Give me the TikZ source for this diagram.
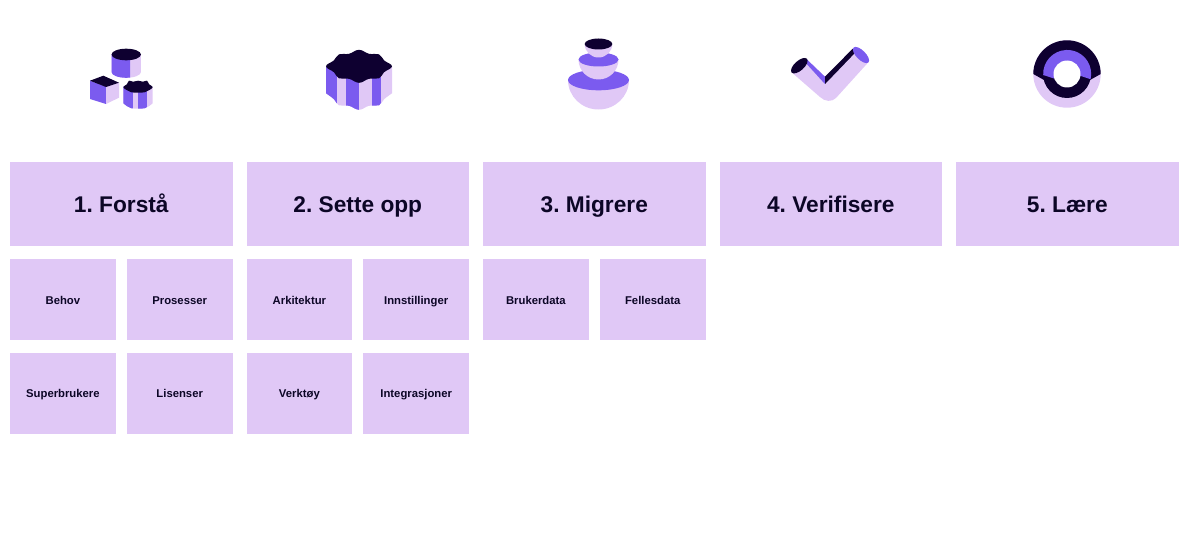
\documentclass[tikz,border=0pt]{standalone}
\usepackage{fontspec}
\setmainfont{Liberation Sans}
\definecolor{lilac}{HTML}{E0C8F6}
\definecolor{vio}{HTML}{7B5BEF}
\definecolor{ink}{HTML}{0E0030}
\definecolor{txt}{HTML}{0C0626}
\newcommand{\bigtop}{plot[smooth cycle,tension=.7] coordinates {(0,-16.5) (-10,-12.5) (-20,-12) (-25,-6) (-33,0) (-25,6) (-20,12) (-10,12.5) (0,16.5) (10,12.5) (20,12) (25,6) (33,0) (25,-6) (20,-12) (10,-12.5)}}
\newcommand{\bigbase}{plot[smooth,tension=.7] coordinates {(33,27) (25,33) (20,39) (10,39.5) (0,43.5) (-10,39.5) (-20,39) (-25,33) (-33,27)}}
\newcommand{\smalltop}{plot[smooth cycle,tension=.7] coordinates {(0,-6) (-5,-5) (-9,-6) (-11,-2.5) (-14.7,0.5) (-11,3.5) (-7,5.5) (0,6) (7,5.5) (11,3.5) (14.7,0.5) (11,-2.5) (9,-6) (5,-5)}}
\newcommand{\smallbase}{plot[smooth,tension=.7] coordinates {(14.7,16.5) (11,19.5) (7,21.5) (0,22) (-7,21.5) (-11,19.5) (-14.7,16.5)}}
\tikzset{
 head/.style={fill=lilac,inner sep=0,minimum width=222.5pt,minimum height=84.5pt,text height=17.8pt,text depth=0pt,font=\fontsize{22.7}{26}\selectfont\bfseries\frenchspacing,text=txt},
 sub/.style={fill=lilac,inner sep=0,minimum width=105.8pt,minimum height=81pt,text height=8.6pt,text depth=0pt,font=\fontsize{11.3}{13}\selectfont\bfseries,text=txt},
}
\begin{document}
\begin{tikzpicture}[x=1pt,y=-1pt]
\useasboundingbox (0,0) rectangle (1200,535);
\node[head] (h1) at (121.3,204) {1. Forstå};
\node[head] (h2) at (357.8,204) {2. Sette opp};
\node[head] (h3) at (594.3,204) {3. Migrere};
\node[head] (h4) at (830.8,204) {4. Verifisere};
\node[head] (h5) at (1067.3,204) {5. Lære};
\node[sub] (a1) at (62.9,299.7) {Behov};
\node[sub] (a2) at (179.7,299.7) {Prosesser};
\node[sub] (a3) at (62.9,393.4) {Superbrukere};
\node[sub] (a4) at (179.7,393.4) {Lisenser};
\node[sub] (b1) at (299.4,299.7) {Arkitektur};
\node[sub] (b2) at (416.2,299.7) {Innstillinger};
\node[sub] (b3) at (299.4,393.4) {Verktøy};
\node[sub] (b4) at (416.2,393.4) {Integrasjoner};
\node[sub] (c1) at (535.9,299.7) {Brukerdata};
\node[sub] (c2) at (652.7,299.7) {Fellesdata};

% icon 1: cylinder
\fill[lilac] (111.5,54.5) -- (111.5,72) arc[start angle=180,end angle=0,x radius=14.7,y radius=5.8] -- (141,54.5) -- cycle;
\begin{scope}
\clip (111.5,54.5) rectangle (130,80);
\fill[vio] (111.5,54.5) -- (111.5,72) arc[start angle=180,end angle=0,x radius=14.7,y radius=5.8] -- (141,54.5) -- cycle;
\end{scope}
\fill[ink] (126.2,54.5) ellipse[x radius=14.7,y radius=5.8];
% cube
\fill[vio] (90,80.7) -- (106,86.7) -- (106,104) -- (90,99) -- cycle;
\fill[lilac] (106,86.7) -- (119,82.7) -- (119,97.7) -- (106,104) -- cycle;
\fill[ink] (90,80.7) -- (103.3,75.7) -- (119,82.7) -- (106,87) -- cycle;
% small flower
\begin{scope}[shift={(138,86.7)}]
\begin{scope}
\clip \smallbase -- (-14.7,0) -- (14.7,0) -- cycle;
\fill[lilac] (-18,-6) rectangle (18,26);
\fill[vio] (-18,-6) rectangle (-4.7,26);
\fill[vio] (0.3,-6) rectangle (8.7,26);
\end{scope}
\fill[ink] \smalltop;
\end{scope}

% icon 2: large flower
\begin{scope}[shift={(359,66.3)}]
\begin{scope}
\clip \bigbase -- (-33,0) -- (33,0) -- cycle;
\fill[lilac] (-40,-16) rectangle (40,50);
\fill[vio] (-40,-16) rectangle (-21.7,50);
\fill[vio] (-13,-16) rectangle (0,50);
\fill[vio] (13.3,-16) rectangle (21.7,50);
\end{scope}
\fill[ink] \bigtop;
\end{scope}

% icon 3: bowls
\fill[lilac] (568,80) arc[start angle=180,end angle=0,x radius=30.5,y radius=29.5] -- cycle;
\fill[vio] (598.5,80) ellipse[x radius=30.5,y radius=10.3];
\fill[lilac] (578.5,59.5) arc[start angle=180,end angle=0,x radius=20,y radius=20] -- cycle;
\fill[vio] (598.5,59.5) ellipse[x radius=20,y radius=7];
\fill[lilac] (584.7,44) arc[start angle=180,end angle=0,x radius=13.8,y radius=13.5] -- cycle;
\fill[ink] (598.5,44) ellipse[x radius=13.8,y radius=5.5];

% icon 4: check
\fill[vio] (806.5,59) -- (825,76.7) -- (825,84.3) -- (803,66) -- cycle;
\fill[ink] (852.7,48.7) -- (825,76.7) -- (825,84.3) -- (857,55) -- cycle;
\fill[lilac] (792,72.7) -- (820,97) .. controls (825,102) and (832,102) .. (836,98) -- (868.3,62.3) -- (857,51) -- (825,84.3) -- (806.5,64) -- cycle;
\fill[vio,rotate around={-45:(861,55)}] (861,55) ellipse[x radius=10.5,y radius=4.6];
\fill[ink,rotate around={42:(799.3,65.7)}] (799.3,65.7) ellipse[x radius=10.3,y radius=4.8];

% icon 5: ring
\fill[lilac] (1067,74) circle[radius=33.7];
\fill[ink] (1033.3,74) arc[start angle=180,end angle=360,radius=33.7] -- (1090,80) -- (1044,80) -- cycle;
\fill[ink] (1067,74) circle[radius=24];
\fill[vio] (1043.2,75) arc[start angle=177.5,end angle=372.7,radius=24] -- (1080,75.7) -- (1053.3,78.3) -- cycle;
\fill[white] (1067,74) circle[radius=13.5];
\end{tikzpicture}
\end{document}
